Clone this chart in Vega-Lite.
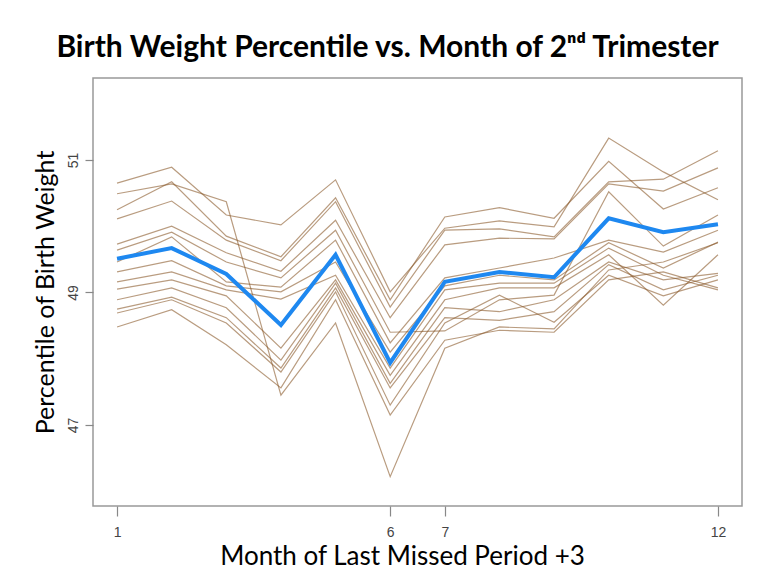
{
  "$schema": "https://vega.github.io/schema/vega-lite/v6.json",
  "width": 649,
  "height": 428,
  "autosize": {"type": "none"},
  "padding": {"left": 93, "top": 78, "right": 25, "bottom": 69},
  "background": "white",
  "title": {"text": "Birth Weight Percentile vs. Month of 2ⁿᵈ Trimester", "font": "Lato", "fontSize": 30, "fontWeight": "bold", "color": "black", "anchor": "middle", "dx": -30, "offset": 15},
  "config": {"view": {"stroke": "#999", "strokeWidth": 1.5}},
  "datasets": {
    "samples": [
      {"series":"L1","month":1,"value":50.65},{"series":"L1","month":2,"value":50.89},{"series":"L1","month":3,"value":50.17},{"series":"L1","month":4,"value":50.02},{"series":"L1","month":5,"value":50.70},{"series":"L1","month":6,"value":49.01},{"series":"L1","month":7,"value":49.97},{"series":"L1","month":8,"value":50.08},{"series":"L1","month":9,"value":49.99},{"series":"L1","month":10,"value":51.33},{"series":"L1","month":11,"value":50.82},{"series":"L1","month":12,"value":50.40},
      {"series":"L2","month":1,"value":50.49},{"series":"L2","month":2,"value":50.64},{"series":"L2","month":3,"value":50.37},{"series":"L2","month":4,"value":47.45},{"series":"L2","month":5,"value":48.54},{"series":"L2","month":6,"value":46.22},{"series":"L2","month":7,"value":48.16},{"series":"L2","month":8,"value":48.48},{"series":"L2","month":9,"value":48.45},{"series":"L2","month":10,"value":49.34},{"series":"L2","month":11,"value":49.46},{"series":"L2","month":12,"value":49.75},
      {"series":"L3","month":1,"value":50.25},{"series":"L3","month":2,"value":50.67},{"series":"L3","month":3,"value":49.85},{"series":"L3","month":4,"value":49.54},{"series":"L3","month":5,"value":50.43},{"series":"L3","month":6,"value":48.89},{"series":"L3","month":7,"value":50.14},{"series":"L3","month":8,"value":50.28},{"series":"L3","month":9,"value":50.12},{"series":"L3","month":10,"value":50.98},{"series":"L3","month":11,"value":50.26},{"series":"L3","month":12,"value":50.58},
      {"series":"L4","month":1,"value":50.11},{"series":"L4","month":2,"value":50.38},{"series":"L4","month":3,"value":49.79},{"series":"L4","month":4,"value":49.48},{"series":"L4","month":5,"value":50.37},{"series":"L4","month":6,"value":48.78},{"series":"L4","month":7,"value":49.94},{"series":"L4","month":8,"value":49.96},{"series":"L4","month":9,"value":49.84},{"series":"L4","month":10,"value":50.67},{"series":"L4","month":11,"value":50.71},{"series":"L4","month":12,"value":51.14},
      {"series":"L5","month":1,"value":49.73},{"series":"L5","month":2,"value":50.00},{"series":"L5","month":3,"value":49.60},{"series":"L5","month":4,"value":49.32},{"series":"L5","month":5,"value":50.09},{"series":"L5","month":6,"value":48.62},{"series":"L5","month":7,"value":49.72},{"series":"L5","month":8,"value":49.82},{"series":"L5","month":9,"value":49.81},{"series":"L5","month":10,"value":50.64},{"series":"L5","month":11,"value":50.53},{"series":"L5","month":12,"value":50.88},
      {"series":"L6","month":1,"value":49.64},{"series":"L6","month":2,"value":49.91},{"series":"L6","month":3,"value":49.46},{"series":"L6","month":4,"value":49.22},{"series":"L6","month":5,"value":49.94},{"series":"L6","month":6,"value":48.40},{"series":"L6","month":7,"value":48.42},{"series":"L6","month":8,"value":48.89},{"series":"L6","month":9,"value":48.96},{"series":"L6","month":10,"value":50.52},{"series":"L6","month":11,"value":49.70},{"series":"L6","month":12,"value":50.17},
      {"series":"L7","month":1,"value":49.46},{"series":"L7","month":2,"value":49.84},{"series":"L7","month":3,"value":49.16},{"series":"L7","month":4,"value":49.08},{"series":"L7","month":5,"value":49.79},{"series":"L7","month":6,"value":48.24},{"series":"L7","month":7,"value":49.22},{"series":"L7","month":8,"value":49.37},{"series":"L7","month":9,"value":49.52},{"series":"L7","month":10,"value":49.79},{"series":"L7","month":11,"value":49.61},{"series":"L7","month":12,"value":49.94},
      {"series":"L8","month":1,"value":49.31},{"series":"L8","month":2,"value":49.48},{"series":"L8","month":3,"value":49.10},{"series":"L8","month":4,"value":49.01},{"series":"L8","month":5,"value":49.46},{"series":"L8","month":6,"value":48.10},{"series":"L8","month":7,"value":49.10},{"series":"L8","month":8,"value":49.26},{"series":"L8","month":9,"value":49.19},{"series":"L8","month":10,"value":49.75},{"series":"L8","month":11,"value":49.37},{"series":"L8","month":12,"value":49.76},
      {"series":"L9","month":1,"value":49.16},{"series":"L9","month":2,"value":49.31},{"series":"L9","month":3,"value":49.04},{"series":"L9","month":4,"value":48.90},{"series":"L9","month":5,"value":49.26},{"series":"L9","month":6,"value":47.86},{"series":"L9","month":7,"value":49.04},{"series":"L9","month":8,"value":49.14},{"series":"L9","month":9,"value":49.14},{"series":"L9","month":10,"value":49.67},{"series":"L9","month":11,"value":49.26},{"series":"L9","month":12,"value":49.04},
      {"series":"L10","month":1,"value":49.05},{"series":"L10","month":2,"value":49.19},{"series":"L10","month":3,"value":48.95},{"series":"L10","month":4,"value":48.16},{"series":"L10","month":5,"value":49.19},{"series":"L10","month":6,"value":47.75},{"series":"L10","month":7,"value":48.89},{"series":"L10","month":8,"value":49.07},{"series":"L10","month":9,"value":49.07},{"series":"L10","month":10,"value":49.57},{"series":"L10","month":11,"value":48.81},{"series":"L10","month":12,"value":49.57},
      {"series":"L11","month":1,"value":48.89},{"series":"L11","month":2,"value":49.07},{"series":"L11","month":3,"value":48.77},{"series":"L11","month":4,"value":47.98},{"series":"L11","month":5,"value":49.14},{"series":"L11","month":6,"value":47.63},{"series":"L11","month":7,"value":48.77},{"series":"L11","month":8,"value":48.71},{"series":"L11","month":9,"value":48.89},{"series":"L11","month":10,"value":49.46},{"series":"L11","month":11,"value":49.19},{"series":"L11","month":12,"value":49.29},
      {"series":"L12","month":1,"value":48.75},{"series":"L12","month":2,"value":48.93},{"series":"L12","month":3,"value":48.62},{"series":"L12","month":4,"value":47.86},{"series":"L12","month":5,"value":49.07},{"series":"L12","month":6,"value":47.56},{"series":"L12","month":7,"value":48.62},{"series":"L12","month":8,"value":48.58},{"series":"L12","month":9,"value":48.71},{"series":"L12","month":10,"value":49.42},{"series":"L12","month":11,"value":49.04},{"series":"L12","month":12,"value":49.26},
      {"series":"L13","month":1,"value":48.69},{"series":"L13","month":2,"value":48.89},{"series":"L13","month":3,"value":48.54},{"series":"L13","month":4,"value":47.80},{"series":"L13","month":5,"value":49.01},{"series":"L13","month":6,"value":47.30},{"series":"L13","month":7,"value":48.54},{"series":"L13","month":8,"value":48.96},{"series":"L13","month":9,"value":48.55},{"series":"L13","month":10,"value":49.26},{"series":"L13","month":11,"value":48.95},{"series":"L13","month":12,"value":49.19},
      {"series":"L14","month":1,"value":48.48},{"series":"L14","month":2,"value":48.74},{"series":"L14","month":3,"value":48.21},{"series":"L14","month":4,"value":47.56},{"series":"L14","month":5,"value":48.89},{"series":"L14","month":6,"value":47.15},{"series":"L14","month":7,"value":48.28},{"series":"L14","month":8,"value":48.43},{"series":"L14","month":9,"value":48.40},{"series":"L14","month":10,"value":49.19},{"series":"L14","month":11,"value":49.31},{"series":"L14","month":12,"value":49.07}
    ],
    "mean": [
      {"month":1,"value":49.51},{"month":2,"value":49.67},{"month":3,"value":49.28},{"month":4,"value":48.51},{"month":5,"value":49.57},{"month":6,"value":47.94},{"month":7,"value":49.16},{"month":8,"value":49.31},{"month":9,"value":49.23},{"month":10,"value":50.12},{"month":11,"value":49.91},{"month":12,"value":50.03}
    ]
  },
  "encoding": {
    "x": {"field": "month", "type": "quantitative",
      "scale": {"domain": [0.56, 12.44], "nice": false, "zero": false},
      "axis": {"values": [1, 6, 7, 12], "title": "Month of Last Missed Period +3", "grid": false, "domain": false,
        "tickSize": 10, "tickColor": "#888", "tickWidth": 1.2, "labelPadding": 9,
        "labelFont": "Liberation Sans", "labelFontSize": 14, "labelColor": "#444",
        "titleFont": "Lato", "titleFontSize": 26, "titleFontWeight": "normal", "titleColor": "black",
        "titleX": 309, "titleY": 58, "titleBaseline": "alphabetic", "titleAlign": "center"}},
    "y": {"field": "value", "type": "quantitative",
      "scale": {"domain": [45.778, 52.237], "nice": false, "zero": false},
      "axis": {"values": [47, 49, 51], "title": "Percentile of Birth Weight", "grid": false, "domain": false,
        "tickSize": 8, "tickColor": "#888", "tickWidth": 1.2, "labelPadding": 5,
        "labelAngle": -90, "labelAlign": "center", "labelBaseline": "bottom",
        "labelFont": "Liberation Sans", "labelFontSize": 14, "labelColor": "#444",
        "titleFont": "Lato", "titleFontSize": 25, "titleFontWeight": "normal", "titleColor": "black",
        "titleX": -40, "titleY": 214, "titleAngle": -90, "titleAlign": "center", "titleBaseline": "alphabetic"}}
  },
  "layer": [
    {"data": {"name": "samples"},
     "mark": {"type": "line", "color": "#8B5A2B", "opacity": 0.6, "strokeWidth": 1.2},
     "encoding": {"detail": {"field": "series"}}},
    {"data": {"name": "mean"},
     "mark": {"type": "line", "color": "#1E88F0", "strokeWidth": 4}}
  ]
}
